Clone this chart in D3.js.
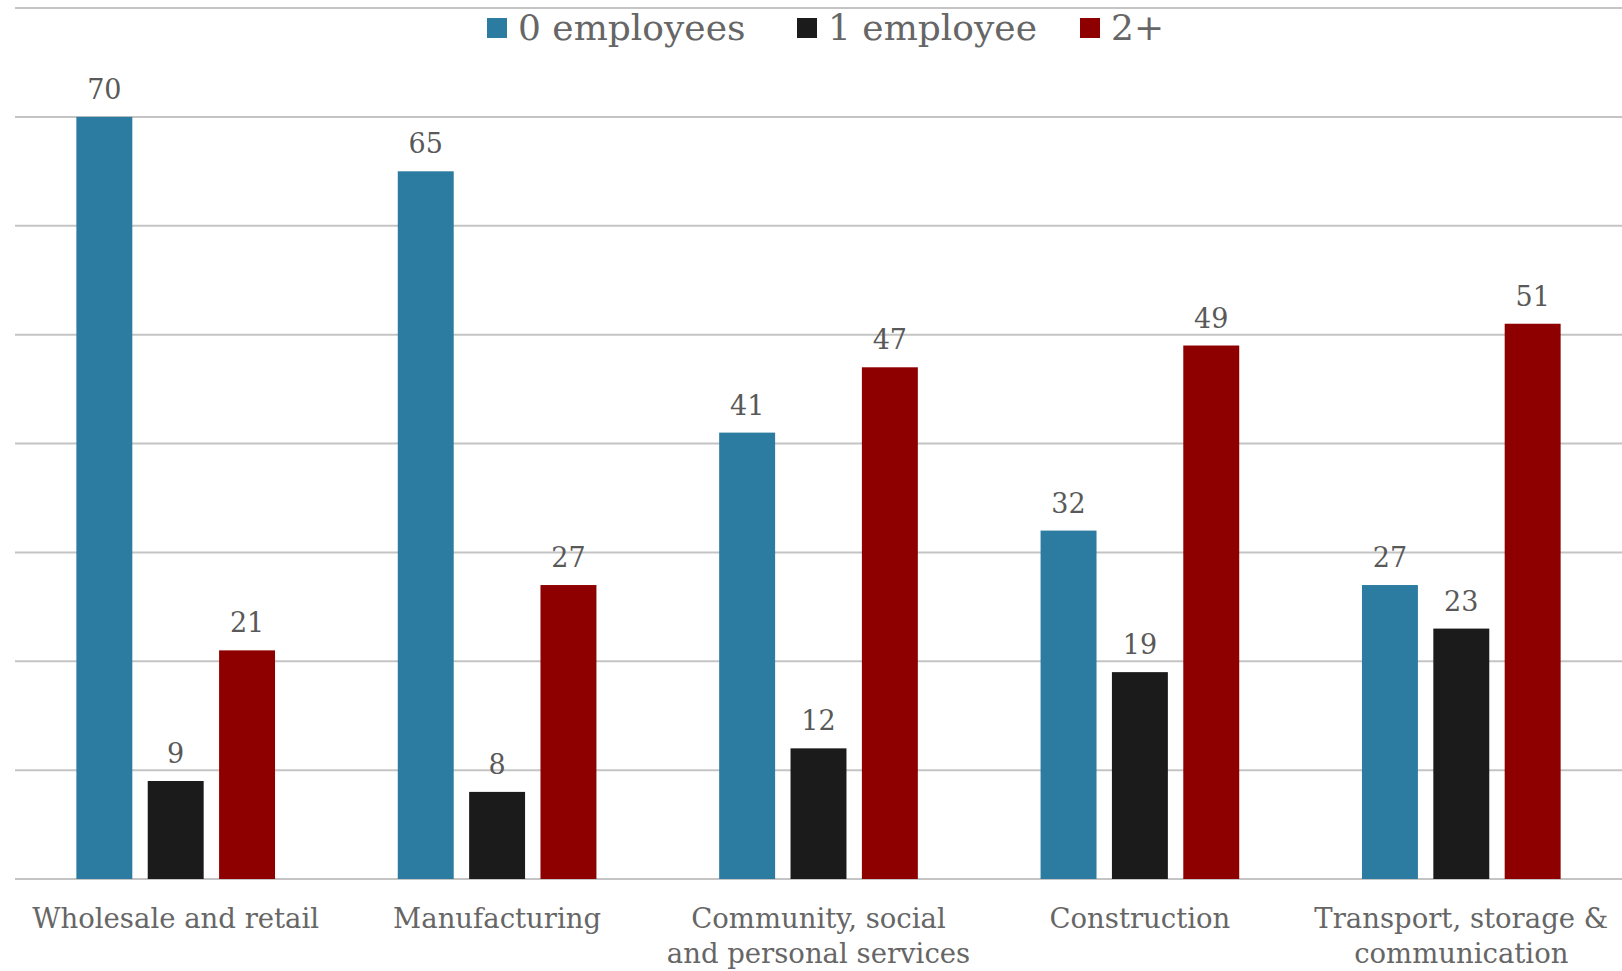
<!DOCTYPE html>
<html>
<head>
<meta charset="utf-8">
<script src="https://cdn.jsdelivr.net/npm/d3@7"></script>
<style>
	body { margin: 0; background: #fff; }
	svg { display: block; }
	text { font-family: "DejaVu Serif", serif; fill: #666; }
</style>
</head>
<body>
<svg id="chart"></svg>
<script>
const categories = [
	["Wholesale and retail"],
	["Manufacturing"],
	["Community, social", "and personal services"],
	["Construction"],
	["Transport, storage &", "communication"]
];
const series = ["0 employees", "1 employee", "2+"];
const zeroEmployees = [70, 65, 41, 32, 27];
const oneEmployee = [9, 8, 12, 19, 23];
const twoPlus = [21, 27, 47, 49, 51];
const colors = ["#2c7ba0", "#1b1b1b", "#8e0000"];
const gridTicks = [0, 10, 20, 30, 40, 50, 60, 70, 80];

const width = 1622;
const height = 971;

const data = categories.map((c, i) => ({
	key: c.join(" "),
	lines: c,
	values: [zeroEmployees[i], oneEmployee[i], twoPlus[i]]
}));

const svg = d3.select("#chart")
	.attr("width", width)
	.attr("height", height);

// Scales
const x0 = d3.scaleBand()
	.domain(data.map((d) => d.key))
	.range([15, 1622]);

const x1 = d3.scaleBand()
	.domain(series)
	.range([0, x0.bandwidth()])
	.paddingInner(0.216)
	.paddingOuter(0.86);

const y = d3.scaleLinear()
	.domain([0, 80])
	.range([879, 8]);

// Gridlines
svg.append("g")
	.selectAll("line")
	.data(gridTicks)
	.join("line")
	.attr("x1", 15)
	.attr("x2", width)
	.attr("y1", (d) => y(d))
	.attr("y2", (d) => y(d))
	.attr("stroke", "#c4c4c4")
	.attr("stroke-width", 2);

// Bars
const groups = svg.append("g")
	.selectAll("g")
	.data(data)
	.join("g")
	.attr("transform", (d) => `translate(${x0(d.key)},0)`);

groups.selectAll("rect")
	.data((d) => d.values.map((v, i) => ({ s: series[i], v, i })))
	.join("rect")
	.attr("x", (d) => x1(d.s))
	.attr("width", x1.bandwidth())
	.attr("y", (d) => y(d.v))
	.attr("height", (d) => y(0) - y(d.v))
	.attr("fill", (d) => colors[d.i]);

groups.selectAll("text.val")
	.data((d) => d.values.map((v, i) => ({ s: series[i], v, i })))
	.join("text")
	.attr("class", "val")
	.attr("x", (d) => x1(d.s) + x1.bandwidth() / 2)
	.attr("y", (d) => y(d.v) - 18)
	.attr("text-anchor", "middle")
	.style("font-size", "27px")
	.style("fill", "#595959")
	.text((d) => d.v);

// Category labels
groups.append("text")
	.attr("text-anchor", "middle")
	.attr("x", x0.bandwidth() / 2)
	.attr("y", 928)
	.style("font-size", "27.5px")
	.selectAll("tspan")
	.data((d) => d.lines)
	.join("tspan")
	.attr("x", x0.bandwidth() / 2)
	.attr("dy", (d, i) => (i === 0 ? 0 : 35))
	.text((d) => d);

// Legend
const legendX = [487, 797, 1080];
const legend = svg.append("g")
	.selectAll("g")
	.data(series)
	.join("g")
	.attr("transform", (d, i) => `translate(${legendX[i]},18)`);

legend.append("rect")
	.attr("width", 20)
	.attr("height", 20)
	.attr("fill", (d, i) => colors[i]);

legend.append("text")
	.attr("x", 31)
	.attr("y", 22)
	.style("font-size", "36px")
	.text((d) => d);
</script>
</body>
</html>
